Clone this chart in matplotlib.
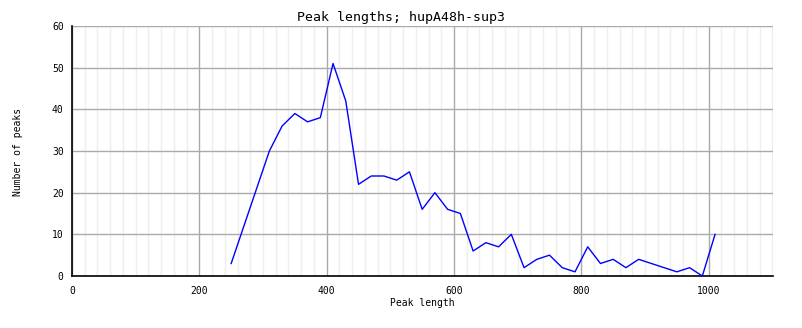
import matplotlib
matplotlib.use("Agg")
import matplotlib.pyplot as plt
from matplotlib.ticker import MultipleLocator

peak_length = list(range(250, 1011, 20))
num_peaks = [3, 12, 21, 30, 36, 39, 37, 38, 51, 42,
             22, 24, 24, 23, 25, 16, 20, 16, 15, 6,
             8, 7, 10, 2, 4, 5, 2, 1, 7, 3,
             4, 2, 4, 3, 2, 1, 2, 0, 10]

title = "Peak lengths; hupA48h-sup3"
xlabel = "Peak length"
ylabel = "Number of peaks"
xticks = [0, 200, 400, 600, 800, 1000]
yticks = [0, 10, 20, 30, 40, 50, 60]

plt.rcParams['font.family'] = ['DejaVu Sans Mono']

fig = plt.figure(figsize=(8.02, 3.28), dpi=100)
ax = fig.add_axes([72/802, 1-276/328, (773-72)/802, 250/328])

ax.plot(peak_length, num_peaks, color='#0000ff', linewidth=1.0, zorder=3)

ax.set_xlim(0, 1101)
ax.set_ylim(0, 60)
ax.set_xticks(xticks)
ax.set_yticks(yticks)
ax.xaxis.set_minor_locator(MultipleLocator(20))
ax.grid(which='major', axis='both', color='#aaaaaa', linewidth=1.0, zorder=1)
ax.grid(which='minor', axis='x', color='#eeeeee', linewidth=1.0, zorder=0)
ax.set_axisbelow(True)

for s in ['top', 'right']:
    ax.spines[s].set_visible(False)
for s in ['left', 'bottom']:
    ax.spines[s].set_color('black')
    ax.spines[s].set_linewidth(1.2)

ax.tick_params(which='both', length=0, labelsize=7)
ax.tick_params(axis='x', pad=7)
ax.tick_params(axis='y', pad=6)

fig.text(0.5, 1-17/328, title, ha='center', va='center', fontsize=9.5)
fig.text(422/802, 1-303/328, xlabel, ha='center', va='center', fontsize=7)
fig.text(18/802, 1-152/328, ylabel, ha='center', va='center', fontsize=7, rotation=90)

fig.savefig("out.png", dpi=100)
